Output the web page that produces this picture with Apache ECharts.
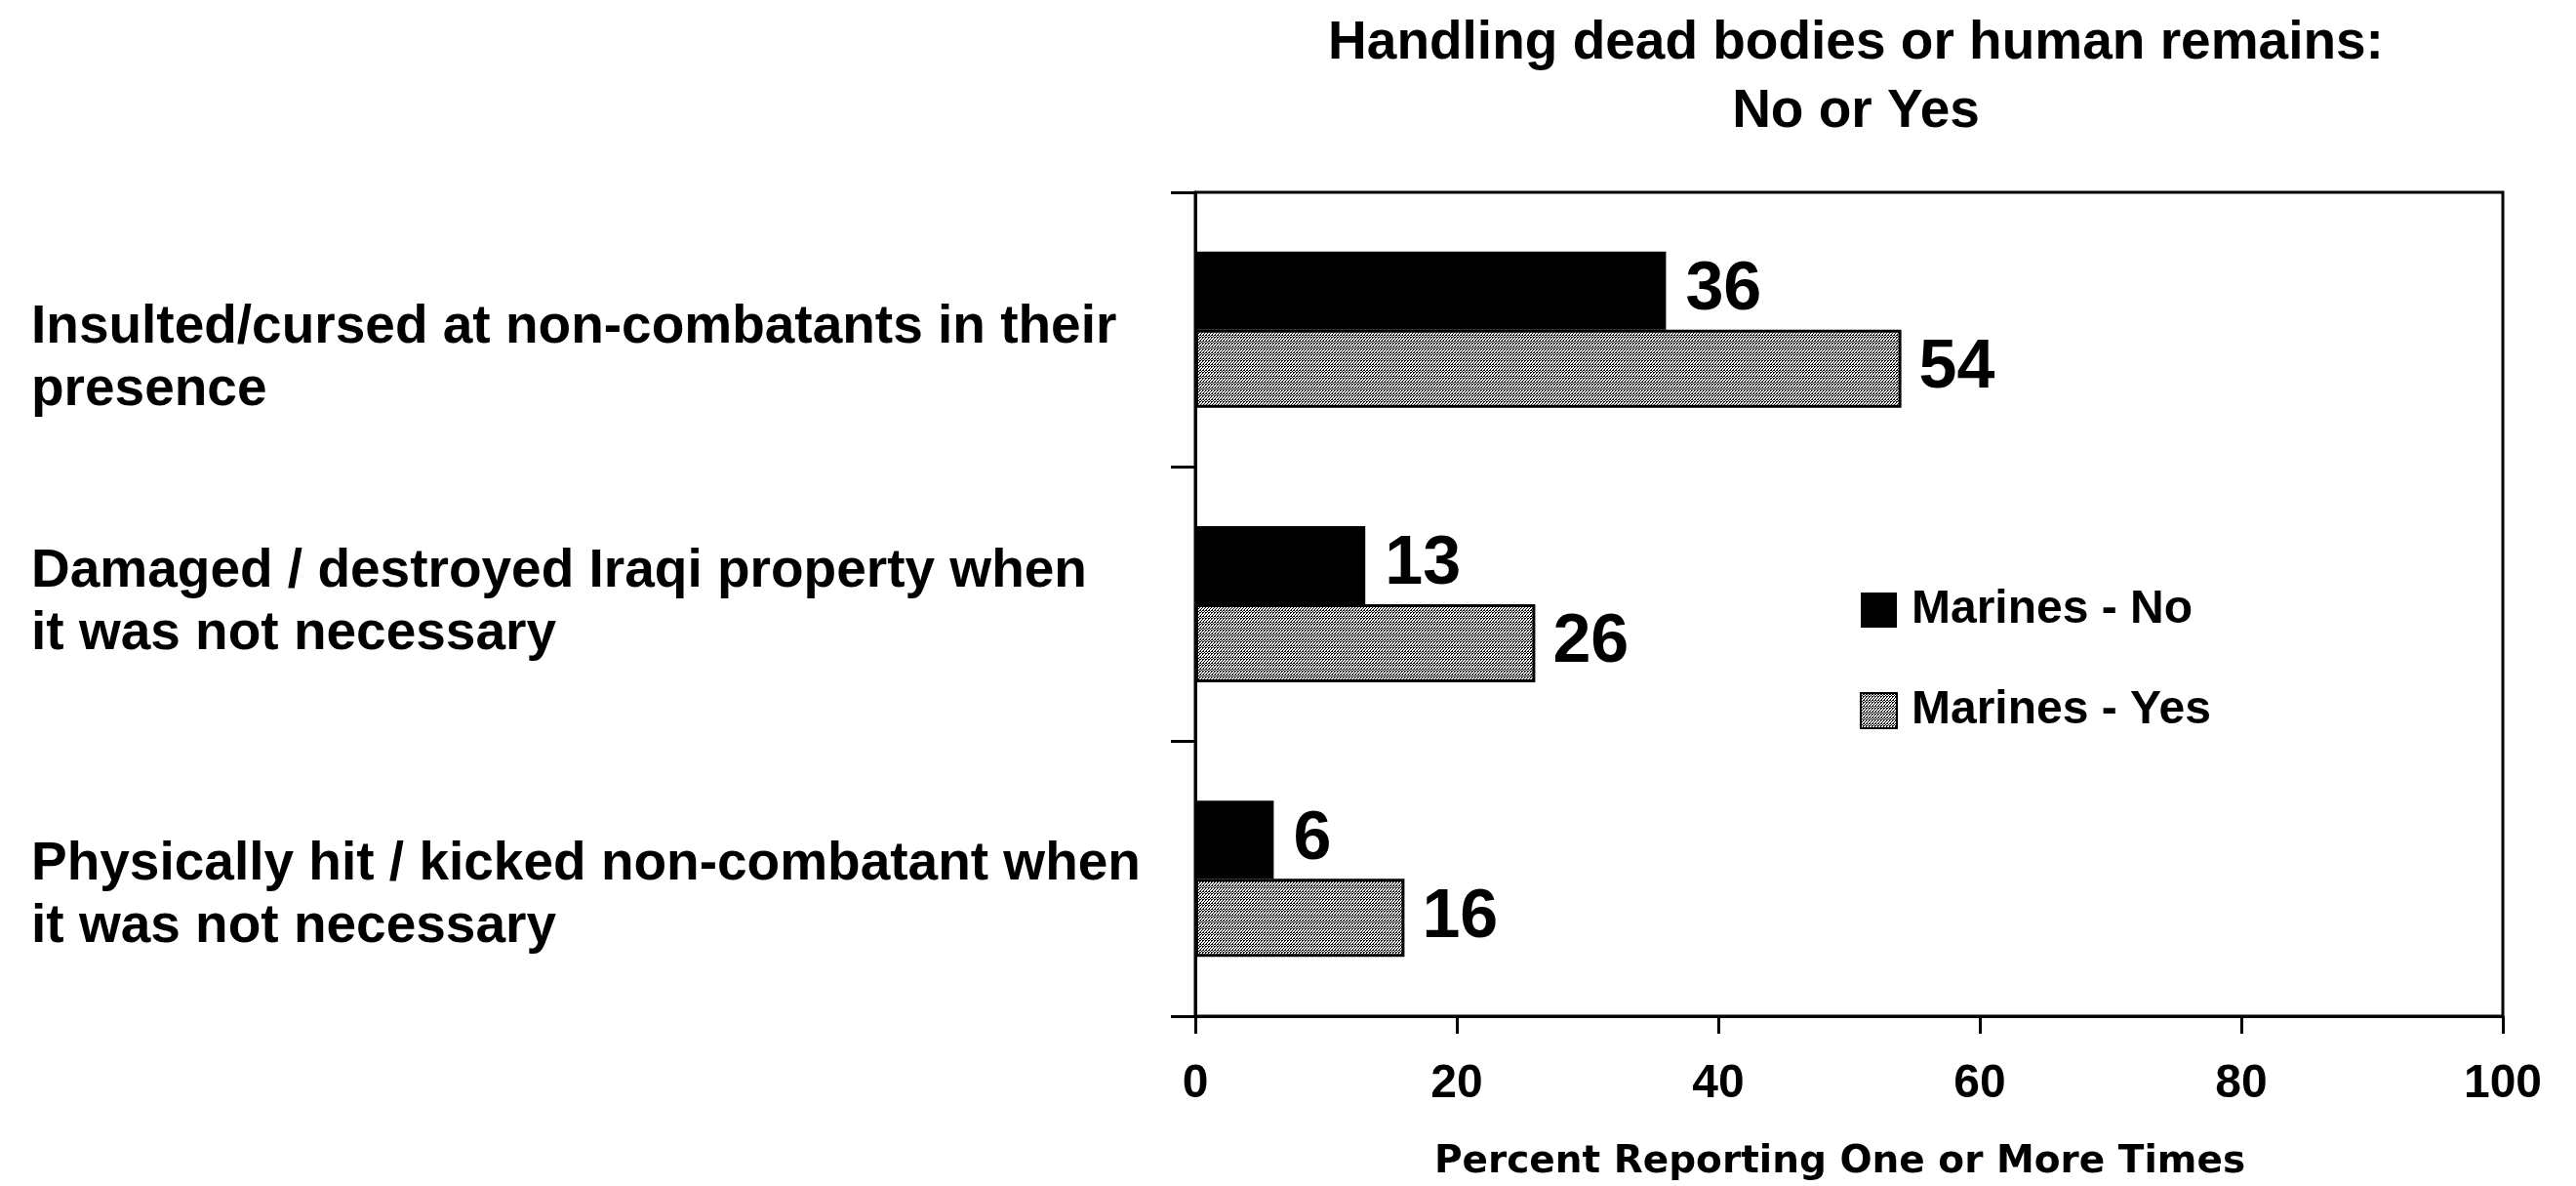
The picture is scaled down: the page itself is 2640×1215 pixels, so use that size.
<!DOCTYPE html>
<html>
<head>
<meta charset="utf-8">
<script src="https://cdn.jsdelivr.net/npm/echarts@6/dist/echarts.min.js"></script>
<style>
html,body{margin:0;padding:0;background:#fff;}
#chart{width:2640px;height:1215px;}
</style>
</head>
<body>
<div id="chart"></div>
<script>
const titleText = 'Handling dead bodies or human remains:\nNo or Yes';
const categories = [
  'Insulted/cursed at non-combatants in their\npresence',
  'Damaged / destroyed Iraqi property when\nit was not necessary',
  'Physically hit / kicked non-combatant when\nit was not necessary'
];
const seriesNames = ['Marines - No', 'Marines - Yes'];
const noValues = [36, 13, 6];
const yesValues = [54, 26, 16];
const axisMin = 0, axisMax = 100, axisStep = 20;
const axisTitle = 'Percent Reporting One or More Times';

const FONT = '"Liberation Sans", Arial, sans-serif';

// vertical nudge of each category label block (style only)
const labelShift = [30, -1, 17];

function makePattern() {
  const c = document.createElement('canvas');
  c.width = 6; c.height = 6;
  const ctx = c.getContext('2d');
  ctx.fillStyle = '#ffffff';
  ctx.fillRect(0, 0, 6, 6);
  ctx.fillStyle = '#000000';
  for (let y = 0; y < 6; y++) {
    for (let x = 0; x < 6; x++) {
      if (((x + y) % 3 === 0) || ((x * 2 + y) % 6 === 1)) ctx.fillRect(x, y, 1, 1);
    }
  }
  return c;
}

const labelBase = {fontFamily: FONT, fontSize: 55, fontWeight: 'bold', color: '#000', lineHeight: 64};
const rich = {};
labelShift.forEach(function (d, i) {
  rich['s' + i] = Object.assign({}, labelBase, {padding: d > 0 ? [2 * d, 0, 0, 0] : [0, 0, -2 * d, 0]});
});

const chart = echarts.init(document.getElementById('chart'), null, {renderer: 'canvas'});
chart.setOption({
  backgroundColor: '#ffffff',
  animation: false,
  textStyle: {fontFamily: FONT},
  title: {
    text: titleText,
    left: 1902,
    top: 10,
    padding: 0,
    textAlign: 'center',
    textStyle: {fontFamily: FONT, fontSize: 55, fontWeight: 'bold', color: '#000', lineHeight: 70}
  },
  legend: {
    orient: 'vertical',
    left: 1906,
    top: 601,
    icon: 'rect',
    itemWidth: 37,
    itemHeight: 36,
    itemGap: 55,
    padding: 0,
    data: seriesNames,
    formatter: function (n) { return '{t|' + n + '}'; },
    textStyle: {
      fontFamily: FONT, fontSize: 48, fontWeight: 'bold', color: '#000',
      rich: {t: {fontFamily: FONT, fontSize: 48, fontWeight: 'bold', color: '#000', lineHeight: 50, padding: [0, 0, 0, 10]}}
    }
  },
  grid: {
    left: 1225, right: 75, top: 197, bottom: 172,
    show: true, borderColor: '#000', borderWidth: 3, backgroundColor: 'transparent',
    containLabel: false
  },
  xAxis: {
    type: 'value',
    min: axisMin, max: axisMax, interval: axisStep,
    splitLine: {show: false},
    axisLine: {show: true, lineStyle: {color: '#000', width: 3}},
    axisTick: {show: true, length: 18, lineStyle: {color: '#000', width: 3}},
    axisLabel: {margin: 46, fontFamily: FONT, fontSize: 48, fontWeight: 'bold', color: '#000'},
    name: axisTitle,
    nameLocation: 'middle',
    nameGap: 130,
    nameTextStyle: {fontFamily: '"DejaVu Sans", sans-serif', fontSize: 39, fontWeight: 'bold', color: '#000', padding: [0, 19, 0, 0]}
  },
  yAxis: {
    type: 'category',
    inverse: true,
    data: categories,
    axisLine: {show: true, lineStyle: {color: '#000', width: 3}},
    axisTick: {show: true, length: 25, lineStyle: {color: '#000', width: 3}},
    axisLabel: {
      align: 'left', margin: 1193,
      fontFamily: FONT, fontSize: 55, fontWeight: 'bold', color: '#000', lineHeight: 64,
      formatter: function (value, index) {
        return value.split('\n').map(function (s) { return '{s' + index + '|' + s + '}'; }).join('\n');
      },
      rich: rich
    }
  },
  series: [
    {
      name: seriesNames[0],
      type: 'bar',
      data: noValues,
      barWidth: 80,
      barGap: '0%',
      itemStyle: {color: '#000'},
      label: {show: true, position: 'right', distance: 20, fontFamily: FONT, fontSize: 70, fontWeight: 'bold', color: '#000'}
    },
    {
      name: seriesNames[1],
      type: 'bar',
      data: yesValues,
      barWidth: 80,
      barGap: '0%',
      itemStyle: {color: {image: makePattern(), repeat: 'repeat'}, borderColor: '#000', borderWidth: 3},
      label: {show: true, position: 'right', distance: 18, fontFamily: FONT, fontSize: 70, fontWeight: 'bold', color: '#000'}
    }
  ]
});
</script>
</body>
</html>
